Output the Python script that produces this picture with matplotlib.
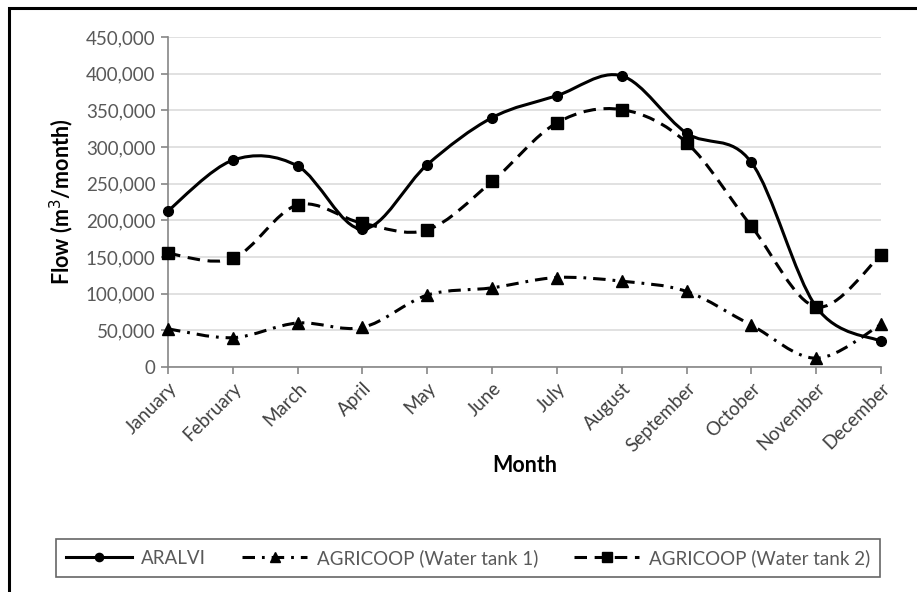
import numpy as np
import matplotlib
matplotlib.use("Agg")
import matplotlib.pyplot as plt
from matplotlib.path import Path
from matplotlib.patches import PathPatch, Rectangle
from matplotlib.lines import Line2D
from matplotlib.ticker import FuncFormatter, MultipleLocator

plt.rcParams['font.family'] = ['Lato', 'DejaVu Sans']
plt.rcParams['lines.scale_dashes'] = False

months = ['January', 'February', 'March', 'April', 'May', 'June', 'July',
          'August', 'September', 'October', 'November', 'December']
aralvi = [213000, 282000, 274000, 188000, 276000, 340000, 370000,
          397000, 319000, 279000, 82000, 35000]
tank1 = [52000, 40000, 60000, 54000, 98000, 108000, 122000,
         117000, 103000, 57000, 12000, 58000]
tank2 = [155000, 148000, 221000, 196000, 187000, 253000, 333000,
         351000, 306000, 192000, 82000, 153000]

GRAY_TXT = '#595959'


def smooth_path(xs, ys):
    # Excel-style smoothed line: Catmull-Rom as cubic Bezier segments
    pts = np.column_stack([xs, ys]).astype(float)
    n = len(pts)
    verts = [pts[0]]
    codes = [Path.MOVETO]
    for i in range(n - 1):
        p0 = pts[max(i - 1, 0)]
        p1 = pts[i]
        p2 = pts[i + 1]
        p3 = pts[min(i + 2, n - 1)]
        verts += [p1 + (p2 - p0) / 6, p2 - (p3 - p1) / 6, p2]
        codes += [Path.CURVE4] * 3
    return Path(verts, codes)


fig = plt.figure(figsize=(9.17, 5.92), dpi=100)
ax = fig.add_axes([168 / 917, 1 - 367 / 592, (881 - 168) / 917, (367 - 37) / 592])

x = np.arange(len(months))
series = [
    ('ARALVI', aralvi, 'o', 7, '-'),
    ('AGRICOOP (Water tank 1)', tank1, '^', 8, (0, (9, 5, 2, 5))),
    ('AGRICOOP (Water tank 2)', tank2, 's', 8, (0, (9, 5.5))),
]
handles = []
for name, vals, mk, ms, ls in series:
    patch = PathPatch(smooth_path(x, vals), fill=False, edgecolor='black',
                      lw=2.2, linestyle=ls, capstyle='butt', zorder=3)
    ax.add_patch(patch)
    ax.plot(x, vals, linestyle='none', marker=mk, markersize=ms,
            color='black', zorder=4, clip_on=False)
    handles.append(Line2D([], [], color='black', lw=2.2, linestyle=ls,
                          marker=mk, markersize=ms * 0.85,
                          dash_capstyle='butt', label=name))

ax.set_xlim(0, 11)
ax.set_ylim(0, 450000)
ax.yaxis.set_major_locator(MultipleLocator(50000))
ax.yaxis.set_major_formatter(FuncFormatter(lambda v, p: f'{int(v):,}'))
ax.grid(axis='y', color='#D9D9D9', lw=1.1, zorder=0)
ax.set_axisbelow(True)

ax.set_xticks(x)
ax.set_xticklabels(months, rotation=45, ha='right', rotation_mode='anchor')
ax.tick_params(axis='x', colors='#868686', labelcolor='#404040', labelsize=13.5,
               length=5, width=1.2, pad=4)
ax.tick_params(axis='y', colors='#868686', labelcolor=GRAY_TXT, labelsize=13.5,
               length=5, width=1.2, pad=4)
for s in ['top', 'right']:
    ax.spines[s].set_visible(False)
for s in ['left', 'bottom']:
    ax.spines[s].set_color('#868686')
    ax.spines[s].set_linewidth(1.2)

ax.set_ylabel('Flow (m$^3$/month)', fontsize=15.5, fontweight='bold', va='center')
ax.yaxis.set_label_coords(-0.149, 0.5)
ax.set_xlabel('Month', fontsize=15.5, fontweight='bold', va='center')
ax.xaxis.set_label_coords(0.5, -0.297)

leg = fig.legend(handles=handles, loc='center', bbox_to_anchor=(468 / 917, 1 - 558 / 592),
                 ncol=3, frameon=True, fancybox=False, fontsize=13.5,
                 handlelength=3.5, columnspacing=1.9, handletextpad=0.5,
                 borderpad=0.55)
leg.get_frame().set_edgecolor('#404040')
leg.get_frame().set_linewidth(1.2)
for t in leg.get_texts():
    t.set_color(GRAY_TXT)

# chart area border
fig.add_artist(Rectangle((9 / 917, -0.05), 1.1, 1 - 8 / 592 + 0.05,
                         transform=fig.transFigure, fill=False,
                         edgecolor='black', lw=2.2, clip_on=False))

fig.savefig('out.png', dpi=100)
